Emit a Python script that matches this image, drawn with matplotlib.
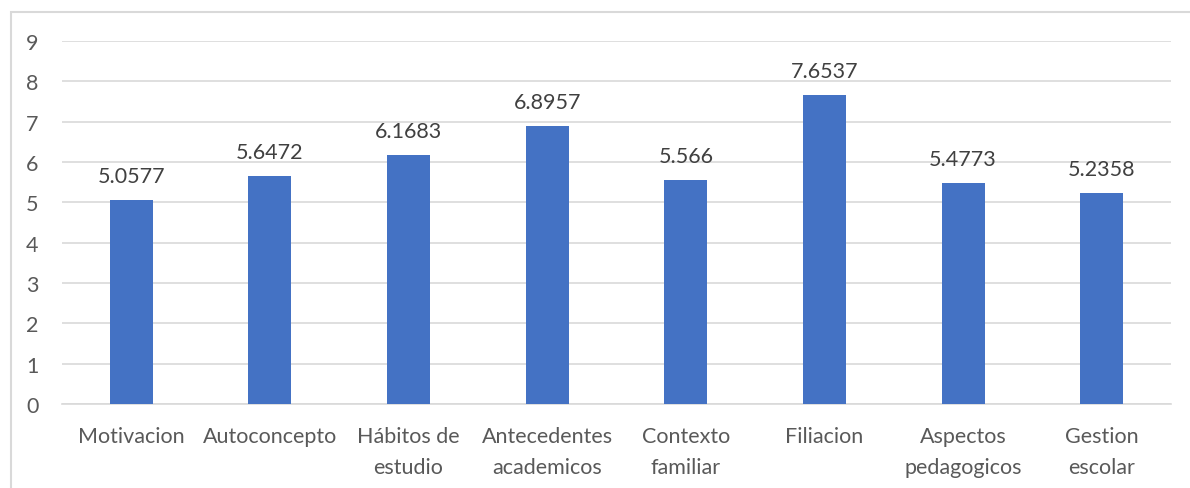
import matplotlib.pyplot as plt
from matplotlib.patches import Rectangle

categorias = ['Motivacion', 'Autoconcepto', 'Hábitos de\nestudio', 'Antecedentes\nacademicos',
              'Contexto\nfamiliar', 'Filiacion', 'Aspectos\npedagogicos', 'Gestion\nescolar']
valores = [5.0577, 5.6472, 6.1683, 6.8957, 5.566, 7.6537, 5.4773, 5.2358]
etiquetas = ['5.0577', '5.6472', '6.1683', '6.8957', '5.566', '7.6537', '5.4773', '5.2358']

plt.rcParams['font.family'] = ['Lato', 'DejaVu Sans']

fig = plt.figure(figsize=(11.9, 4.89), dpi=100)
ax = fig.add_axes([62/1190, 1 - 405/489, (1171 - 62)/1190, (405 - 42)/489])

x = range(len(categorias))
barras = ax.bar(x, valores, width=0.31, color='#4472C4', zorder=3)
for b, t in zip(barras, etiquetas):
    ax.annotate(t, (b.get_x() + b.get_width()/2, b.get_height()), xytext=(0, 10),
                textcoords='offset points', ha='center', va='bottom', fontsize=15.5, color='#404040')

ax.set_xlim(-0.5, len(categorias) - 0.5)
ax.set_ylim(0, 9)
ax.set_yticks(range(10))
ax.set_xticks(list(x))
ax.set_xticklabels(categorias, fontsize=15.5, color='#595959', linespacing=1.65)
ax.tick_params(axis='y', labelsize=15.5, labelcolor='#595959', length=0, pad=17)
ax.tick_params(axis='x', length=0, pad=16)
ax.grid(axis='y', color='#d9d9d9', linewidth=1.2, zorder=0)
for s in ['top', 'right', 'left']:
    ax.spines[s].set_visible(False)
ax.spines['bottom'].set_color('#d9d9d9')
ax.spines['bottom'].set_linewidth(1.2)

# marco del grafico
fig.patches.append(Rectangle((11/1190, -0.1), 1.1, 0.1 + 1 - 13/489, transform=fig.transFigure,
                             fill=False, edgecolor='#d9d9d9', linewidth=1.5))

fig.savefig('out.png', dpi=100)
